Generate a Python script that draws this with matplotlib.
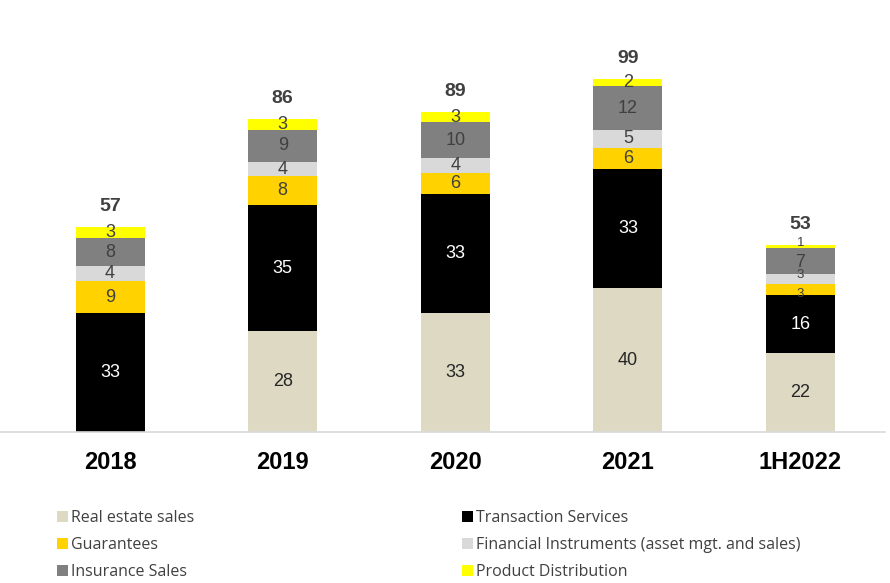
import matplotlib
matplotlib.use('Agg')
import matplotlib.pyplot as plt
import numpy as np

categories = ["2018", "2019", "2020", "2021", "1H2022"]
series_names = [
    "Real estate sales",
    "Transaction Services",
    "Guarantees",
    "Financial Instruments (asset mgt. and sales)",
    "Insurance Sales",
    "Product Distribution",
]
real_estate = [0, 28, 33, 40, 22]
transaction = [33, 35, 33, 33, 16]
guarantees = [9, 8, 6, 6, 3]
financial = [4, 4, 4, 5, 3]
insurance = [8, 9, 10, 12, 7]
product = [3, 3, 3, 2, 1]
totals = [57, 86, 89, 99, 53]

colors = ["#ddd9c3", "#000000", "#ffd200", "#d9d9d9", "#808080", "#ffff00"]
label_colors = ["#262626", "#ffffff", "#404040", "#404040", "#404040", "#404040"]

series = [real_estate, transaction, guarantees, financial, insurance, product]

fig = plt.figure(figsize=(8.9, 5.83), dpi=100)
ax = fig.add_axes([0.0, 0.259, 885 / 890, 0.741])

x = np.arange(len(categories))
bottom = np.zeros(len(categories))
handles = []
for k, (vals, name, col, lcol) in enumerate(zip(series, series_names, colors, label_colors)):
    vals = np.array(vals, dtype=float)
    bars = ax.bar(x, vals, width=0.4, bottom=bottom, color=col, label=name, linewidth=0)
    handles.append(bars)
    for xi, b, v in zip(x, bottom, vals):
        if v <= 0:
            continue
        y = b + v / 2
        size = 13
        # the half-year bar has very thin segments: smaller text, nudged apart
        if xi == 4 and v < 4:
            size = 9.5
            if k == 2:
                y -= 1.3
            elif k == 3:
                y += 1.0
            elif k == 5:
                y += 1.0
        elif xi == 4 and k == 4:
            y -= 0.3
        ax.text(xi, y, f"{int(v)}", ha="center", va="center",
                fontsize=size, color=lcol, family="Liberation Sans")
    bottom += vals

# totals above each stack
for xi, top, t in zip(x, bottom, totals):
    ax.text(xi, top + 3.3, str(t), ha="center", va="bottom", fontsize=14,
            fontweight="bold", color="#404040", family="Liberation Sans")

ax.set_xlim(-0.638, 4.49)
ax.set_ylim(0, 120)
ax.set_yticks([])
ax.set_xticks(x)
ax.set_xticklabels(categories, fontsize=17, fontweight="bold", family="Liberation Sans")
ax.tick_params(axis="x", length=0, pad=14)
for s in ["top", "right", "left"]:
    ax.spines[s].set_visible(False)
ax.spines["bottom"].set_color("#d9d9d9")
ax.spines["bottom"].set_linewidth(1.2)

# legend laid out row-wise in two columns
order = [0, 2, 4, 1, 3, 5]
leg = fig.legend([handles[i] for i in order], [series_names[i] for i in order],
                 ncol=2, loc="upper left", bbox_to_anchor=(0.048, 0.15),
                 frameon=False, handlelength=0.7, handleheight=0.7, handletextpad=0.15,
                 columnspacing=16.8, labelspacing=0.7,
                 prop={"family": "Open Sans", "size": 11.5})
for t in leg.get_texts():
    t.set_color("#404040")

fig.savefig("out.png", dpi=100)
